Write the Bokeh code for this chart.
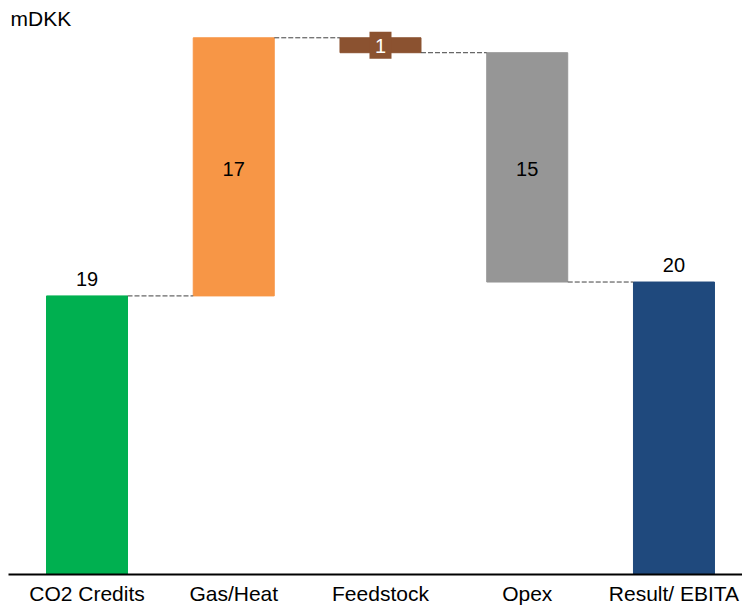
from bokeh.plotting import figure
from bokeh.models import ColumnDataSource, LabelSet, Label, FixedTicker
from bokeh.core.properties import value
from bokeh.embed import file_html
from bokeh.resources import INLINE

categories = ["CO2 Credits", "Gas/Heat", "Feedstock", "Opex", "Result/ EBITA"]
changes = [19.05, 17.65, -1.02, -15.68, 20.0]
kinds = ["total", "delta", "delta", "delta", "total"]
labels = ["19", "17", "1", "15", "20"]
colors = ["#00B050", "#F79646", "#8B5230", "#969696", "#1F497D"]

FONT = "Liberation Sans"
BAR_W = 0.552

# compute waterfall bottoms / tops
bottoms, tops = [], []
level = 0.0
for ch, k in zip(changes, kinds):
    if k == "total":
        b, t = 0.0, ch
        level = ch
    else:
        b, t = level, level + ch
        level = t
    bottoms.append(min(b, t))
    tops.append(max(b, t))

xs = list(range(len(categories)))
src = ColumnDataSource(dict(x=xs, bottom=bottoms, top=tops, color=colors))

p = figure(width=742, height=607, x_range=(-0.535, 4.467), y_range=(0, 39.25),
           output_backend="svg", toolbar_location=None,
           min_border_left=8, min_border_right=0, min_border_top=0, min_border_bottom=31)
p.outline_line_color = None
p.xgrid.visible = False
p.ygrid.visible = False
p.yaxis.visible = False
p.background_fill_color = "white"
p.border_fill_color = "white"

p.vbar(x="x", bottom="bottom", top="top", width=BAR_W, color="color", source=src)

# connectors
x0s, x1s, ys = [], [], []
for i in range(len(categories) - 1):
    if kinds[i] == "total":
        lv = changes[i]
    else:
        lv = tops[i] if changes[i] > 0 else bottoms[i]
    x0s.append(i + BAR_W / 2)
    x1s.append(i + 1 - BAR_W / 2)
    ys.append(lv)
p.segment(x0=x0s, y0=ys, x1=x1s, y1=ys, line_color="#404040", line_width=1, line_dash="5 2")

# labels
above_idx = [i for i, k in enumerate(kinds) if k == "total"]
mid_idx = [i for i, k in enumerate(kinds) if k == "delta" and abs(changes[i]) >= 3]
small_idx = [i for i, k in enumerate(kinds) if k == "delta" and abs(changes[i]) < 3]

src_above = ColumnDataSource(dict(x=[xs[i] for i in above_idx], y=[tops[i] for i in above_idx],
                                  t=[labels[i] for i in above_idx]))
p.add_layout(LabelSet(x="x", y="y", text="t", source=src_above, text_align="center",
                      text_baseline="alphabetic", y_offset=10, text_font=value(FONT),
                      text_font_size="20px", text_color="black"))

src_mid = ColumnDataSource(dict(x=[xs[i] for i in mid_idx],
                                y=[(bottoms[i] + tops[i]) / 2 for i in mid_idx],
                                t=[labels[i] for i in mid_idx]))
p.add_layout(LabelSet(x="x", y="y", text="t", source=src_mid, text_align="center",
                      text_baseline="middle", y_offset=-2, text_font=value(FONT),
                      text_font_size="20px", text_color="black"))

src_small = ColumnDataSource(dict(x=[xs[i] for i in small_idx],
                                  y=[(bottoms[i] + tops[i]) / 2 for i in small_idx],
                                  t=[labels[i] for i in small_idx],
                                  c=[colors[i] for i in small_idx]))
p.rect(x="x", y="y", width=22, height=27, width_units="screen", height_units="screen",
       fill_color="c", line_color=None, source=src_small)
p.add_layout(LabelSet(x="x", y="y", text="t", source=src_small, text_align="center",
                      text_baseline="middle", y_offset=-1, text_font=value(FONT),
                      text_font_size="20px", text_color="white"))

# unit label
p.add_layout(Label(x=-0.535, y=39.25, text="mDKK", x_offset=2, y_offset=-6,
                   text_baseline="top", text_align="left", text_font=FONT,
                   text_font_size="21px", text_color="black"))

# x axis
p.xaxis.ticker = FixedTicker(ticks=xs)
p.xaxis.major_label_overrides = {i: c for i, c in enumerate(categories)}
p.xaxis.major_tick_line_color = None
p.xaxis.minor_tick_line_color = None
p.xaxis.major_tick_out = 0
p.xaxis.major_tick_in = 0
p.xaxis.axis_line_color = "black"
p.xaxis.axis_line_width = 2
p.xaxis.major_label_standoff = 7
p.xaxis.major_label_text_font = FONT
p.xaxis.major_label_text_font_size = "21px"
p.xaxis.major_label_text_color = "black"

open("out.html", "w").write(file_html(p, INLINE))
